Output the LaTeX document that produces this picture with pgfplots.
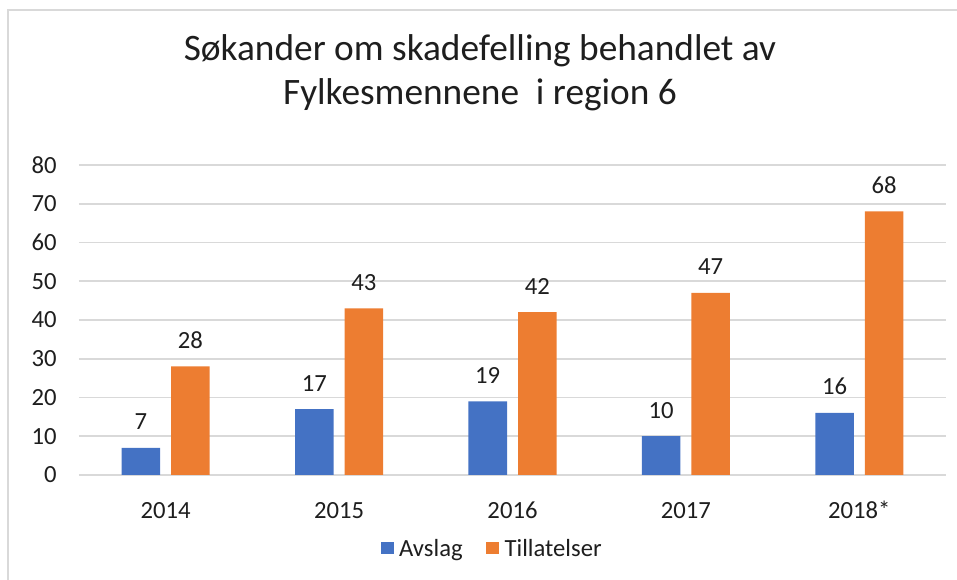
\documentclass[border=0pt]{standalone}
\usepackage{pgfplots}
\pgfplotsset{compat=1.18}
\usepackage{fontspec}
\setmainfont{Carlito}
\definecolor{cblue}{HTML}{4472C4}
\definecolor{corange}{HTML}{ED7D31}
\definecolor{cgrid}{HTML}{D9D9D9}
\definecolor{ctext}{HTML}{1E1E1E}
\begin{document}
\begin{tikzpicture}
\useasboundingbox (0,0) rectangle (717.75pt,435pt);
\draw[cgrid, line width=1.5pt] (6pt,-2pt) -- (6pt,427.5pt) -- (720pt,427.5pt);
\node[anchor=base, inner sep=0pt, text=ctext, font=\fontsize{28}{33}\selectfont] at (360pt,389.25pt) {Søkander om skadefelling behandlet av};
\node[anchor=base, inner sep=0pt, text=ctext, font=\fontsize{28}{33}\selectfont] at (360pt,356.25pt) {Fylkesmennene\ \ i region 6};
\begin{axis}[
  at={(59.25pt,78.75pt)}, anchor=south west,
  scale only axis, width=650.25pt, height=232.5pt,
  xmin=-0.5, xmax=4.5, ymin=0, ymax=80,
  ytick={0,10,...,80},
  xtick={0,1,2,3,4},
  xticklabels={2014,2015,2016,2017,2018*},
  /pgf/number format/assume math mode=true,
  axis line style={draw=none},
  tick style={draw=none},
  ymajorgrids,
  major grid style={draw=cgrid, line width=1.25pt},
  ticklabel style={font=\fontsize{18.5}{20}\selectfont, inner sep=0pt, text=ctext},
  yticklabel style={anchor=east, xshift=-16.5pt},
  xticklabel style={anchor=base, yshift=-28.5pt},
  ybar=8.25pt, bar width=28.9pt,
  nodes near coords,
  every node near coord/.append style={font=\fontsize{18.5}{20}\selectfont, anchor=base, inner sep=0pt, yshift=13.5pt, text=ctext},
  legend columns=2,
  legend style={draw=none, at={(0.477,-0.237)}, anchor=center, font=\fontsize{18.5}{20}\selectfont, text=ctext,
    /tikz/every even column/.append style={column sep=15.75pt},
    /tikz/every odd column/.append style={}},
  legend image code/.code={\fill[#1, draw=none] (0pt,-4.5pt) rectangle (9.75pt,4.5pt);},
]
\addplot[fill=cblue, draw=none] coordinates {(0,7) (1,17) (2,19) (3,10) (4,16)};
\addplot[fill=corange, draw=none] coordinates {(0,28) (1,43) (2,42) (3,47) (4,68)};
\legend{\hspace{2pt}Avslag, \hspace{2pt}Tillatelser}
\end{axis}
\end{tikzpicture}
\end{document}
